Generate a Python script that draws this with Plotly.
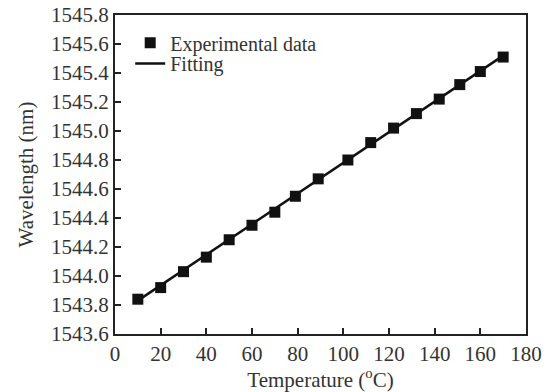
import plotly.graph_objects as go

temperature = [10, 20, 30, 40, 50, 60, 70, 79, 89, 102, 112, 122, 132, 142, 151, 160, 170]
wavelength = [1543.84, 1543.92, 1544.03, 1544.13, 1544.25, 1544.35, 1544.44, 1544.55,
              1544.67, 1544.80, 1544.92, 1545.02, 1545.12, 1545.22, 1545.32, 1545.41, 1545.51]
fit_x = [10, 170]
fit_y = [1543.83, 1545.52]

x_ticks = [0, 20, 40, 60, 80, 100, 120, 140, 160, 180]
y_ticks = [1543.6, 1543.8, 1544.0, 1544.2, 1544.4, 1544.6, 1544.8, 1545.0, 1545.2, 1545.4, 1545.6, 1545.8]

font = "Liberation Serif"
col = "#222222"
txt = "#333333"

fig = go.Figure()
fig.add_trace(go.Scatter(x=temperature, y=wavelength, mode="markers", name="Experimental data",
                         marker=dict(symbol="square", size=11, color="#111111"),
                         legend="legend", showlegend=True))
fig.add_trace(go.Scatter(x=fit_x, y=fit_y, mode="lines", name="Fitting",
                         line=dict(color="#111111", width=2.5), legend="legend2", showlegend=True))

axis_common = dict(showgrid=False, zeroline=False, showline=True, linecolor=col, linewidth=2,
                   mirror=True, ticks="inside", ticklen=6, tickwidth=1.5, tickcolor=col,
                   automargin=False,
                   tickfont=dict(family=font, size=21, color=txt))

fig.update_xaxes(range=[0, 180], tickvals=x_ticks, ticktext=[str(v) for v in x_ticks],
                 title=dict(text="Temperature (<sup>o</sup>C)", font=dict(family=font, size=21, color=txt),
                            standoff=4),
                 **axis_common)
fig.update_yaxes(range=[1543.6, 1545.8], tickvals=y_ticks, ticktext=[f"{v:.1f}" for v in y_ticks],
                 title=dict(text="Wavelength (nm)", font=dict(family=font, size=21, color=txt),
                            standoff=12),
                 **axis_common)

leg_common = dict(xanchor="left", yanchor="middle", bgcolor="rgba(0,0,0,0)",
                  font=dict(family=font, size=20, color=txt), itemwidth=30, visible=True)
fig.update_layout(width=550, height=392, margin=dict(l=115, r=24, t=15, b=58),
                  plot_bgcolor="white", paper_bgcolor="white", showlegend=True,
                  font=dict(family=font, size=21, color=txt),
                  legend=dict(x=0.037, y=0.913, **leg_common),
                  legend2=dict(x=0.037, y=0.848, **leg_common))

fig.write_html("out.html", config={"displayModeBar": False},
               post_script="document.body.style.margin='0px';")
